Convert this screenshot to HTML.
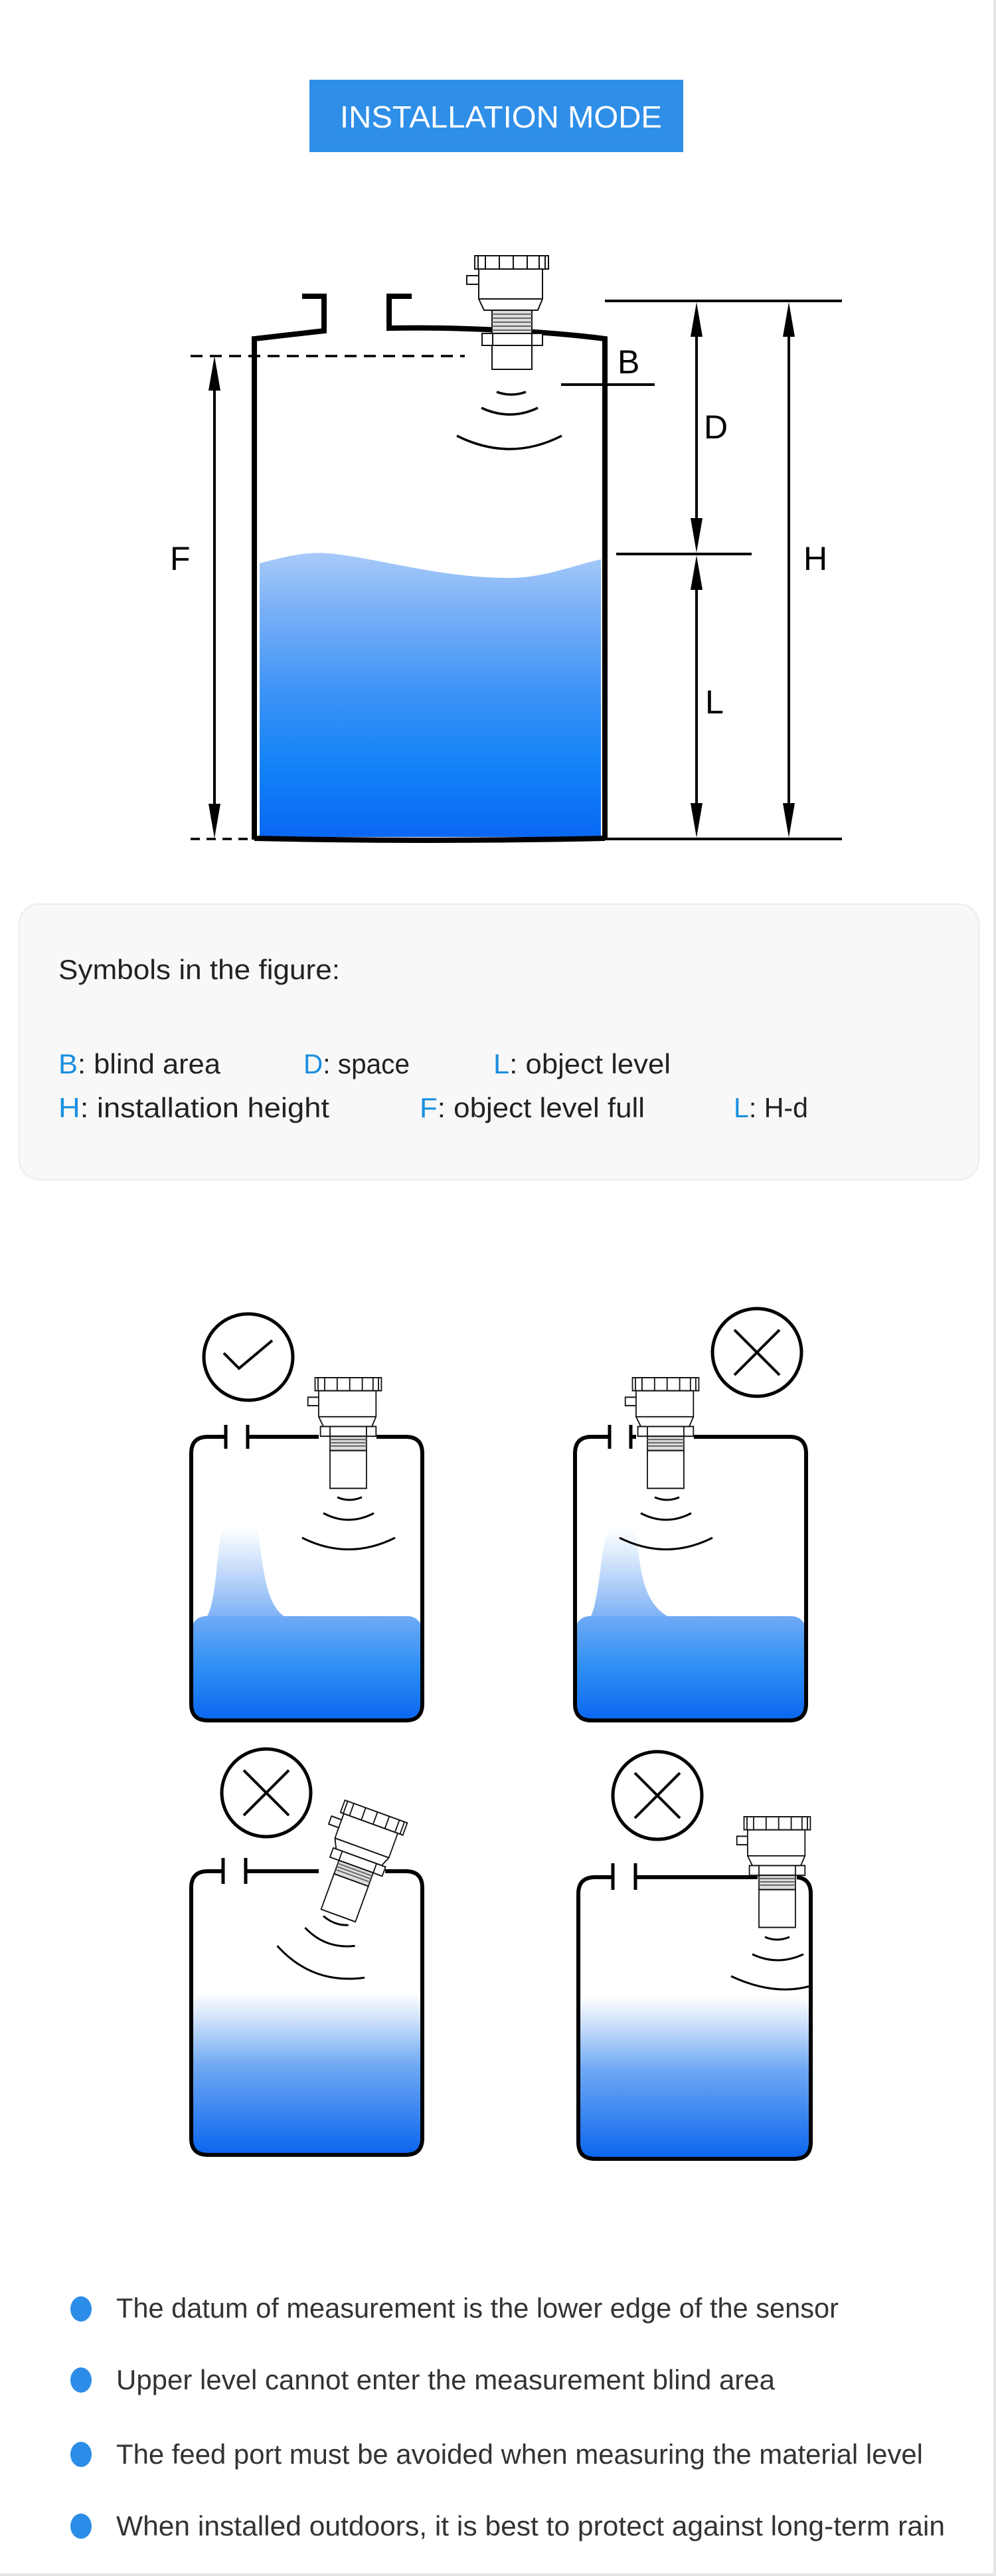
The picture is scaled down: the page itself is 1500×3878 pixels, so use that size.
<!DOCTYPE html>
<html><head><meta charset="utf-8"><style>
html,body{margin:0;padding:0;background:#fff;}
body{width:1500px;height:3878px;position:relative;overflow:hidden;font-family:"Liberation Sans",sans-serif;}
svg{position:absolute;left:0;top:0;}
</style></head><body>
<svg width="1500" height="3878" viewBox="0 0 1500 3878" xmlns="http://www.w3.org/2000/svg">
<defs>
<linearGradient id="wBig" x1="0" y1="0" x2="0" y2="1">
<stop offset="0" stop-color="#a8caf8"/><stop offset="0.2" stop-color="#7ab0f7"/><stop offset="0.5" stop-color="#3b92f6"/><stop offset="0.75" stop-color="#1283f7"/><stop offset="1" stop-color="#0a68f4"/></linearGradient>
<linearGradient id="wS" x1="0" y1="0" x2="0" y2="1">
<stop offset="0" stop-color="#6faaf5"/><stop offset="0.5" stop-color="#2e8ff5"/><stop offset="1" stop-color="#0c68ef"/></linearGradient>
<linearGradient id="hump" x1="0" y1="0" x2="0" y2="1">
<stop offset="0" stop-color="#ffffff"/><stop offset="0.3" stop-color="#dceafc"/><stop offset="1" stop-color="#80b2f5"/></linearGradient>
<linearGradient id="wFade" x1="0" y1="0" x2="0" y2="1">
<stop offset="0" stop-color="#ffffff"/><stop offset="0.15" stop-color="#d4e5fb"/><stop offset="0.45" stop-color="#6fa9f3"/><stop offset="1" stop-color="#0c66ee"/></linearGradient>
<g id="sensor" fill="#fff" stroke="#111" stroke-width="2">
<rect x="-67" y="30" width="18" height="13"/>
<path d="M-49 20 H47 V65 L40 82 H-41 L-49 65 Z"/>
<line x1="-49" y1="65" x2="47" y2="65"/>
<rect x="-29" y="82" width="60" height="35" fill="#ddd"/>
<line x1="-29" y1="88" x2="31" y2="88" stroke="#666"/><line x1="-29" y1="94" x2="31" y2="94" stroke="#666"/><line x1="-29" y1="100" x2="31" y2="100" stroke="#666"/><line x1="-29" y1="106" x2="31" y2="106" stroke="#666"/><line x1="-29" y1="112" x2="31" y2="112" stroke="#666"/>
<rect x="-44" y="117" width="91" height="18"/>
<line x1="-28" y1="117" x2="-28" y2="135"/><line x1="31" y1="117" x2="31" y2="135"/>
<rect x="-29" y="135" width="60" height="36"/>
<rect x="-55" y="0" width="111" height="20"/>
<line x1="-50" y1="0" x2="-50" y2="20"/><line x1="-39" y1="0" x2="-39" y2="20"/><line x1="-18" y1="0" x2="-18" y2="20"/><line x1="3" y1="0" x2="3" y2="20"/><line x1="24" y1="0" x2="24" y2="20"/><line x1="42" y1="0" x2="42" y2="20"/><line x1="51" y1="0" x2="51" y2="20"/>
</g>
<g id="sensor2" fill="#fff" stroke="#111" stroke-width="2">
<rect x="-67" y="30" width="18" height="13"/>
<path d="M-49 20 H47 V60 L40 75 H-41 L-49 60 Z"/>
<line x1="-49" y1="60" x2="47" y2="60"/>
<rect x="-46" y="75" width="93" height="15"/>
<line x1="-30" y1="75" x2="-30" y2="90"/><line x1="31" y1="75" x2="31" y2="90"/>
<rect x="-30" y="90" width="61" height="22" fill="#ddd"/>
<line x1="-30" y1="95" x2="31" y2="95" stroke="#666"/><line x1="-30" y1="100" x2="31" y2="100" stroke="#666"/><line x1="-30" y1="105" x2="31" y2="105" stroke="#666"/>
<rect x="-30" y="112" width="61" height="58"/>
<rect x="-55" y="0" width="111" height="20"/>
<line x1="-50" y1="0" x2="-50" y2="20"/><line x1="-39" y1="0" x2="-39" y2="20"/><line x1="-18" y1="0" x2="-18" y2="20"/><line x1="3" y1="0" x2="3" y2="20"/><line x1="24" y1="0" x2="24" y2="20"/><line x1="42" y1="0" x2="42" y2="20"/><line x1="51" y1="0" x2="51" y2="20"/>
</g>
</defs>

<rect x="1496" y="0" width="4" height="3878" fill="#e6e6e6"/>
<rect x="0" y="3874" width="1500" height="4" fill="#e6e6e6"/>

<!-- title -->
<rect x="466" y="120" width="563" height="109" fill="#2f8fe8"/>
<text x="512" y="192" font-size="46" fill="#fff" textLength="485" lengthAdjust="spacingAndGlyphs" font-family="Liberation Sans, sans-serif">INSTALLATION MODE</text>

<!-- main tank -->
<path d="M391 848 C430 838 460 830 494 833 C560 838 660 870 766 870 C820 870 860 852 905 842 L905 1260 L391 1260 Z" fill="url(#wBig)"/>
<g fill="none" stroke="#000" stroke-width="8">
<path d="M383 1264 V510 L488 498 V446 H455"/>
<path d="M620 446 H586 V494 C680 492 820 498 911 510 V1264"/>
<path d="M383 1262 Q647 1268 911 1262"/>
</g>
<use href="#sensor" transform="translate(770,385)"/>
<g fill="none" stroke="#000" stroke-width="3.5">
<path d="M748 590 Q770 598 792 590"/>
<path d="M725 614 Q768 634 810 614"/>
<path d="M688 656 Q768 696 846 656"/>
</g>
<line x1="287" y1="536" x2="700" y2="536" stroke="#000" stroke-width="3.5" stroke-dasharray="18,11"/>
<line x1="287" y1="1263" x2="383" y2="1263" stroke="#000" stroke-width="3.5" stroke-dasharray="14,10"/>
<g stroke="#000" stroke-width="4">
<line x1="845" y1="579" x2="986" y2="579"/>
<line x1="911" y1="453" x2="1268" y2="453"/>
<line x1="928" y1="834" x2="1132" y2="834"/>
<line x1="909" y1="1263" x2="1268" y2="1263"/>
<line x1="323" y1="560" x2="323" y2="1240"/>
<line x1="1049" y1="475" x2="1049" y2="812"/>
<line x1="1049" y1="856" x2="1049" y2="1240"/>
<line x1="1188" y1="475" x2="1188" y2="1240"/>
</g>
<g fill="#000">
<path d="M323 536 L314 588 H332 Z"/><path d="M323 1262 L314 1210 H332 Z"/>
<path d="M1049 455 L1040 507 H1058 Z"/><path d="M1049 832 L1040 780 H1058 Z"/>
<path d="M1049 836 L1040 888 H1058 Z"/><path d="M1049 1261 L1040 1209 H1058 Z"/>
<path d="M1188 455 L1179 507 H1197 Z"/><path d="M1188 1261 L1179 1209 H1197 Z"/>
</g>
<g font-size="50" fill="#000" font-family="Liberation Sans, sans-serif">
<text x="930" y="562">B</text>
<text x="1060" y="660">D</text>
<text x="256" y="858">F</text>
<text x="1210" y="858">H</text>
<text x="1062" y="1074">L</text>
</g>

<!-- symbols card -->
<rect x="29" y="1361" width="1445" height="415" rx="30" fill="#f8f8f8" stroke="#ececec" stroke-width="2"/>
<g font-size="42" fill="#222" font-family="Liberation Sans, sans-serif" lengthAdjust="spacingAndGlyphs">
<text x="88" y="1474" textLength="424" lengthAdjust="spacingAndGlyphs">Symbols in the figure:</text>
<text x="88" y="1616" textLength="244" lengthAdjust="spacingAndGlyphs"><tspan fill="#1a8fe0">B</tspan>: blind area</text>
<text x="457" y="1616" textLength="160" lengthAdjust="spacingAndGlyphs"><tspan fill="#1a8fe0">D</tspan>: space</text>
<text x="743" y="1616" textLength="267" lengthAdjust="spacingAndGlyphs"><tspan fill="#1a8fe0">L</tspan>: object level</text>
<text x="88" y="1682" textLength="408" lengthAdjust="spacingAndGlyphs"><tspan fill="#1a8fe0">H</tspan>: installation height</text>
<text x="632" y="1682" textLength="339" lengthAdjust="spacingAndGlyphs"><tspan fill="#1a8fe0">F</tspan>: object level full</text>
<text x="1105" y="1682" textLength="112" lengthAdjust="spacingAndGlyphs"><tspan fill="#1a8fe0">L</tspan>: H-d</text>
</g>

<!-- tank 1 -->
<rect x="288" y="2433" width="348" height="154" rx="22" fill="url(#wS)"/>
<path d="M312 2433 C330 2400 325 2300 340 2300 H385 C395 2300 390 2410 428 2433 Z" fill="url(#hump)"/>
<path d="M340 2163 H313 Q288 2163 288 2188 V2565 Q288 2590 313 2590 H611 Q636 2590 636 2565 V2188 Q636 2163 611 2163 H567 M480 2163 H373" fill="none" stroke="#000" stroke-width="6"/>
<line x1="340" y1="2145" x2="340" y2="2181" stroke="#000" stroke-width="5"/><line x1="373" y1="2145" x2="373" y2="2181" stroke="#000" stroke-width="5"/>
<use href="#sensor2" transform="translate(524,2074) scale(0.9,0.98)"/>
<g fill="none" stroke="#000" stroke-width="3"><path d="M508 2254 Q526 2262 545 2254"/><path d="M487 2278 Q525 2298 563 2278"/><path d="M455 2315 Q525 2350 595 2315"/></g>
<ellipse cx="374" cy="2043" rx="67" ry="65" fill="none" stroke="#000" stroke-width="5"/>
<path d="M337 2037 L360 2060 L410 2018" fill="none" stroke="#000" stroke-width="4"/>

<!-- tank 2 -->
<rect x="866" y="2433" width="348" height="154" rx="22" fill="url(#wS)"/>
<path d="M890 2433 C905 2400 905 2310 918 2305 C935 2298 955 2300 960 2320 C965 2380 975 2415 1005 2433 Z" fill="url(#hump)"/>
<path d="M918 2163 H891 Q866 2163 866 2188 V2565 Q866 2590 891 2590 H1189 Q1214 2590 1214 2565 V2188 Q1214 2163 1189 2163 H1045 M958 2163 H950" fill="none" stroke="#000" stroke-width="6"/>
<line x1="918" y1="2145" x2="918" y2="2181" stroke="#000" stroke-width="5"/><line x1="950" y1="2145" x2="950" y2="2181" stroke="#000" stroke-width="5"/>
<use href="#sensor2" transform="translate(1002,2074) scale(0.9,0.98)"/>
<g fill="none" stroke="#000" stroke-width="3"><path d="M986 2254 Q1004 2262 1023 2254"/><path d="M965 2278 Q1003 2298 1041 2278"/><path d="M933 2315 Q1003 2350 1073 2315"/></g>
<ellipse cx="1140" cy="2036" rx="67" ry="66" fill="none" stroke="#000" stroke-width="5"/>
<path d="M1106 2002 L1174 2070 M1174 2002 L1106 2070" stroke="#000" stroke-width="4"/>

<!-- tank 3 -->
<rect x="288" y="3000" width="348" height="242" rx="22" fill="url(#wFade)"/>
<path d="M336 2817 H313 Q288 2817 288 2842 V3219 Q288 3244 313 3244 H611 Q636 3244 636 3219 V2842 Q636 2817 611 2817 H580 M480 2817 H370" fill="none" stroke="#000" stroke-width="6"/>
<line x1="336" y1="2797" x2="336" y2="2836" stroke="#000" stroke-width="5"/><line x1="370" y1="2797" x2="370" y2="2836" stroke="#000" stroke-width="5"/>
<use href="#sensor2" transform="translate(566,2727) rotate(20) scale(0.9,0.98)"/>
<g fill="none" stroke="#000" stroke-width="3" transform="rotate(20 510 2880)"><path d="M490 2892 Q510 2900 530 2892"/><path d="M470 2918 Q510 2938 550 2918"/><path d="M440 2958 Q510 2995 580 2958"/></g>
<ellipse cx="401" cy="2699" rx="67" ry="66" fill="none" stroke="#000" stroke-width="5"/>
<path d="M367 2665 L435 2733 M435 2665 L367 2733" stroke="#000" stroke-width="4"/>

<!-- tank 4 -->
<rect x="872" y="3005" width="348" height="243" rx="22" fill="url(#wFade)"/>
<path d="M923 2826 H896 Q871 2826 871 2851 V3225 Q871 3250 896 3250 H1196 Q1221 3250 1221 3225 V2851 Q1221 2828 1200 2826 M1141 2826 H957" fill="none" stroke="#000" stroke-width="6"/>
<line x1="923" y1="2805" x2="923" y2="2845" stroke="#000" stroke-width="5"/><line x1="957" y1="2805" x2="957" y2="2845" stroke="#000" stroke-width="5"/>
<use href="#sensor2" transform="translate(1170,2735) scale(0.9,0.98)"/>
<g fill="none" stroke="#000" stroke-width="3"><path d="M1152 2916 Q1170 2924 1189 2916"/><path d="M1133 2942 Q1171 2960 1210 2942"/><path d="M1101 2975 Q1165 3005 1220 2990"/></g>
<ellipse cx="990" cy="2703" rx="67" ry="66" fill="none" stroke="#000" stroke-width="5"/>
<path d="M956 2669 L1024 2737 M1024 2669 L956 2737" stroke="#000" stroke-width="4"/>

<!-- bullets -->
<g fill="#2b8de8">
<ellipse cx="122" cy="3476" rx="16" ry="19"/>
<ellipse cx="122" cy="3583" rx="16" ry="19"/>
<ellipse cx="122" cy="3695" rx="16" ry="19"/>
<ellipse cx="122" cy="3803" rx="16" ry="19"/>
</g>
<g font-size="42" fill="#333" font-family="Liberation Sans, sans-serif">
<text x="175" y="3489" textLength="1088" lengthAdjust="spacingAndGlyphs">The datum of measurement is the lower edge of the sensor</text>
<text x="175" y="3597" textLength="992" lengthAdjust="spacingAndGlyphs">Upper level cannot enter the measurement blind area</text>
<text x="175" y="3709" textLength="1215" lengthAdjust="spacingAndGlyphs">The feed port must be avoided when measuring the material level</text>
<text x="175" y="3817" textLength="1248" lengthAdjust="spacingAndGlyphs">When installed outdoors, it is best to protect against long-term rain</text>
</g>
</svg>
</body></html>
